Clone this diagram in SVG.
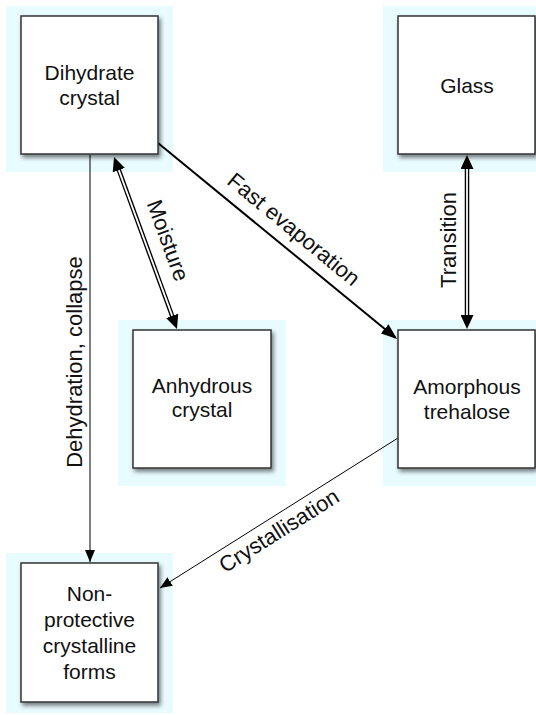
<svg xmlns="http://www.w3.org/2000/svg" width="536" height="715" viewBox="0 0 536 715">
<defs>
<style>
.halo{fill:#e8fbff}
.box{fill:#fff;stroke:#333;stroke-width:1.5;filter:url(#sh)}
.t{font-family:"Liberation Sans",Arial,Helvetica,sans-serif;font-size:21px;fill:#111;text-anchor:middle}
.l{font-size:22px}
.thin{stroke:#000;stroke-width:1;fill:none}
.thick{stroke:#000;stroke-width:2;fill:none}
.dblo{stroke:#000;stroke-width:4.5;fill:none}
.dbli{stroke:#fff;stroke-width:1.8;fill:none}
</style>
<filter id="sh" x="-20%" y="-20%" width="140%" height="140%">
<feDropShadow dx="2" dy="3" stdDeviation="2" flood-color="#000" flood-opacity="0.5"/>
</filter>
<marker id="a1" markerUnits="userSpaceOnUse" viewBox="0 0 12 10" markerWidth="12" markerHeight="10" refX="12" refY="5" orient="auto"><path d="M0,0 L12,5 L0,10 z" fill="#000"/></marker>
<marker id="a2" markerUnits="userSpaceOnUse" viewBox="0 0 14 13" markerWidth="14" markerHeight="13" refX="8" refY="6.5" orient="auto-start-reverse"><path d="M0,0 L14,6.5 L0,13 z" fill="#000"/></marker>
<marker id="a3" markerUnits="userSpaceOnUse" viewBox="0 0 16 12" markerWidth="16" markerHeight="12" refX="14" refY="6" orient="auto"><path d="M0,0 L16,6 L0,12 z" fill="#000"/></marker>
</defs>

<g id="halos">
<rect class="halo" x="6" y="6" width="167" height="166"/>
<rect class="halo" x="383" y="6" width="153" height="166"/>
<rect class="halo" x="118" y="320" width="168" height="166"/>
<rect class="halo" x="383" y="320" width="153" height="166"/>
<rect class="halo" x="6" y="553" width="167" height="160"/>
</g>

<g id="connectors">
<line class="thin" x1="90" y1="155" x2="90" y2="562" marker-end="url(#a1)"/>
<line class="thin" x1="398" y1="438" x2="160" y2="588" marker-end="url(#a1)"/>
<line class="thick" x1="158" y1="143" x2="395.5" y2="337.7" marker-end="url(#a3)"/>
<line class="dblo" x1="116.1" y1="162.6" x2="174.9" y2="323.4" marker-start="url(#a2)" marker-end="url(#a2)"/>
<line class="dbli" x1="118.8" y1="170.1" x2="172.2" y2="315.9"/>
<line class="dblo" x1="467" y1="161" x2="467" y2="323" marker-start="url(#a2)" marker-end="url(#a2)"/>
<line class="dbli" x1="467" y1="169" x2="467" y2="315"/>
<text class="t l" transform="translate(81.5,362) rotate(-90)">Dehydration, collapse</text>
<text class="t l" transform="translate(161,243) rotate(70)">Moisture</text>
<text class="t l" transform="translate(289,235) rotate(39.5)">Fast evaporation</text>
<text class="t l" transform="translate(455.5,240) rotate(-90)">Transition</text>
<text class="t l" transform="translate(283,537) rotate(-32.2)">Crystallisation</text>
</g>

<g id="dihydrate">
<rect class="box" x="21" y="16" width="137" height="138"/>
<text class="t" x="89.5" y="80">Dihydrate</text>
<text class="t" x="89.5" y="105">crystal</text>
</g>

<g id="glass">
<rect class="box" x="398" y="16" width="137" height="138"/>
<text class="t" x="467" y="93">Glass</text>
</g>

<g id="anhydrous">
<rect class="box" x="133" y="330" width="138" height="138"/>
<text class="t" x="202" y="393">Anhydrous</text>
<text class="t" x="202" y="417">crystal</text>
</g>

<g id="amorphous">
<rect class="box" x="398" y="330" width="137" height="138"/>
<text class="t" x="467" y="394">Amorphous</text>
<text class="t" x="467" y="419">trehalose</text>
</g>

<g id="nonprotective">
<rect class="box" x="21" y="563" width="137" height="139"/>
<text class="t" x="89.5" y="601">Non-</text>
<text class="t" x="89.5" y="627">protective</text>
<text class="t" x="89.5" y="653">crystalline</text>
<text class="t" x="89.5" y="679">forms</text>
</g>
</svg>
